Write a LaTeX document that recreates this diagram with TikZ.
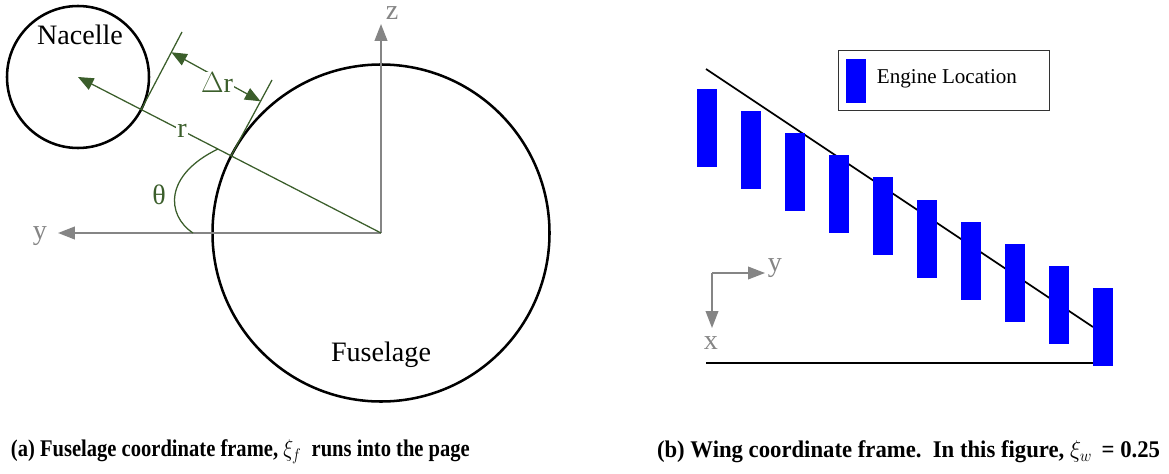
\documentclass[tikz,border=0pt]{standalone}
\usepackage{fontspec}
\setmainfont{Liberation Serif}
\usepackage{graphicx}
\usepackage{tikz}
\usetikzlibrary{calc,arrows.meta,positioning}
\definecolor{GeoGreen}{HTML}{3B5E2B}
\definecolor{AxisGray}{HTML}{858585}
\definecolor{EngBlue}{HTML}{0000FF}

\begin{document}
\begin{tikzpicture}[x=0.025cm, y=-0.025cm,
  every node/.style={font=\fontsize{20}{24}\selectfont},
  body/.style={line width=1.8pt, black},
  axis/.style={line width=1.3pt, AxisGray, -{Triangle[length=12pt,width=9pt]}},
  geo/.style={line width=0.9pt, GeoGreen},
  geoarrow/.style={geo, -{Triangle[length=11pt,width=9pt]}},
  caption/.style={font=\fontsize{17}{20}\selectfont\bfseries}]
  \useasboundingbox (0,0) rectangle (1169,473);

  % (a) fuselage frame
  \coordinate (O) at (381,233);
  \coordinate (nac) at (78,77);
  \draw[body] (O) circle[radius=168.5];
  \draw[body] (nac) circle[radius=71];
  \node (nacname) at (80,35) {Nacelle};
  \node (fusname) at (381,355) {Fuselage};
  \node[text=AxisGray, inner sep=0pt] (zlab) at (392,13) {z};
  \node[text=AxisGray] (ylab) at (40,236) {y};
  \draw[axis] (O) -- (381,24);
  \draw[axis] (O) -- (58,233);
  % tangent lines at both circles
  \coordinate (nacP) at (141,110);
  \coordinate (nacQ) at (182,32);
  \coordinate (fusP) at (231,156);
  \coordinate (fusQ) at (272,80);
  \draw[geo] (nacP) -- (nacQ);
  \draw[geo] (fusP) -- (fusQ);
  \draw[geoarrow] (O) -- (nac);
  \node[fill=white, inner sep=1pt, text=GeoGreen] (rlab) at (182,131) {r};
  \draw[geo, {Triangle[length=11pt,width=9pt]}-{Triangle[length=11pt,width=9pt]}]
    ($(nacP)!0.74!(nacQ)$) -- ($(fusP)!0.72!(fusQ)$);
  \node[fill=white, inner sep=1pt, text=GeoGreen] (drlab) at (217,83) {$\Delta$r};
  \draw[geo] (193,233) .. controls (166,215) and (164,175) .. (218,149);
  \node[text=GeoGreen] (thlab) at (159,195) {θ};

  % (b) wing frame
  \draw[line width=1.2pt] (706,69) -- (1093,327);
  \draw[line width=1.6pt] (706,363) -- (1093,363);
  \foreach \i in {0,...,9}{
    \fill[EngBlue] ({697+44*\i},{89+22.1*\i}) rectangle +(20,78);
  }
  \coordinate (W) at (712,273);
  \draw[axis, line width=1pt] (W) -- (765,273);
  \draw[axis, line width=1pt] (W) -- (712,328);
  \node[text=AxisGray] (wylab) at (775,268) {y};
  \node[text=AxisGray] (wxlab) at (711,343) {x};
  % legend
  \draw[line width=0.6pt, black!80] (838,50) rectangle (1049,110);
  \fill[EngBlue] (846,59) rectangle (866,103);
  \node[anchor=west, font=\fontsize{15}{18}\selectfont] (legtext) at (872,79) {Engine Location};

  % captions
  \node[caption, anchor=west] (capa) at (6,452)
    {\scalebox{0.86}[1]{(a) Fuselage coordinate frame, $\xi_f$\ \ runs into the page}};
  \node[caption, anchor=east] (capb) at (1165,452)
    {\scalebox{0.95}[1]{(b) Wing coordinate frame.\ \ In this figure, $\xi_w$\ \,= 0.25}};
\end{tikzpicture}
\end{document}
